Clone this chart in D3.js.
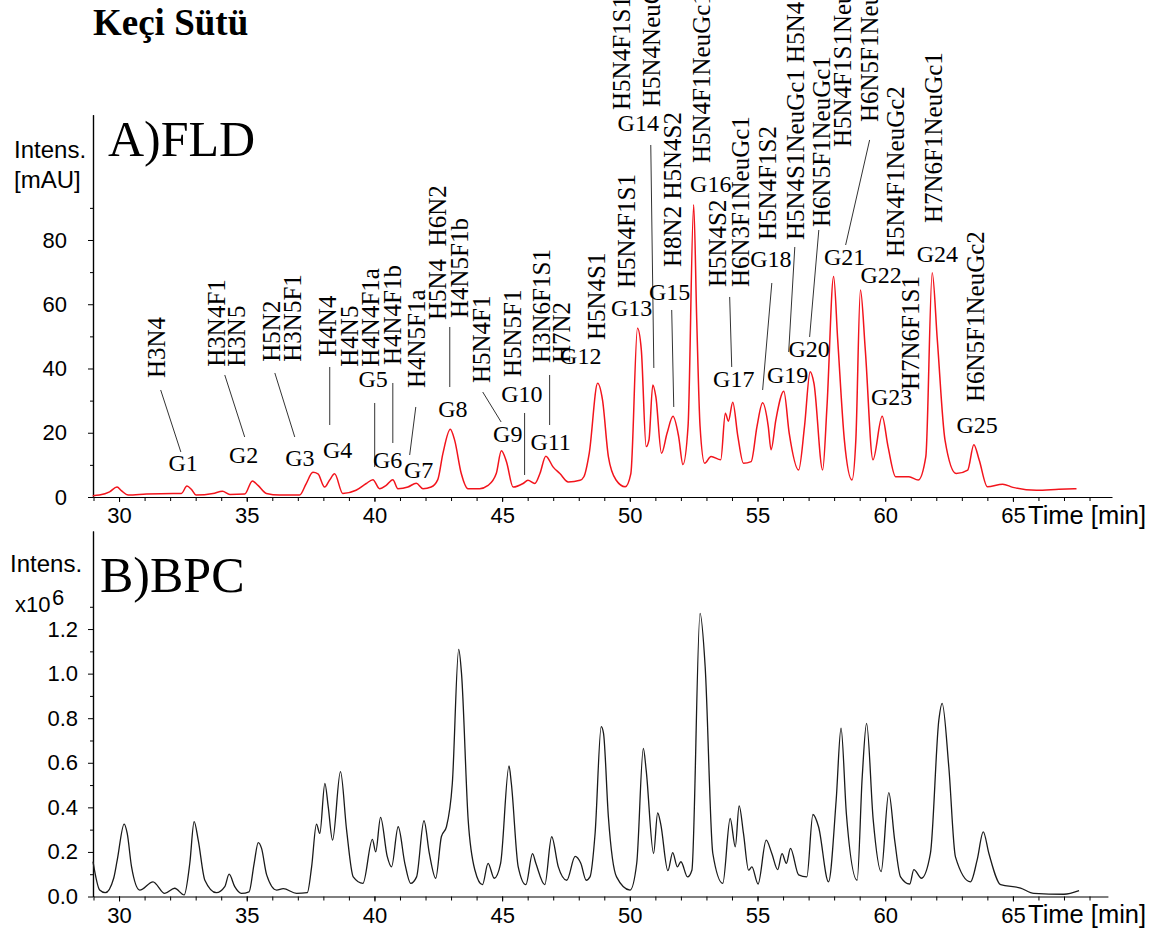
<!DOCTYPE html>
<html>
<head>
<meta charset="utf-8">
<script src="https://cdn.jsdelivr.net/npm/d3@7"></script>
<style>
  body { margin: 0; background: #fff; }
  svg { display: block; }
</style>
</head>
<body>
<svg id="chart" width="1158" height="939"></svg>
<script>
// ---------- data ----------
// Fluorescence trace: [retention time (min), intensity (mAU)]
const fldTrace = [
  [28.97,0.4],[29.23,0.6],[29.63,1.6],[29.92,3.1],[30.1,1.9],[30.36,0.6],[31.07,0.9],[32.12,1.1],
  [32.44,1.1],[32.66,3.4],[32.83,2.4],[33.02,0.6],[33.68,1.1],[34.05,1.8],[34.34,0.8],[34.92,0.9],
  [35.22,5.0],[35.44,3.6],[35.77,1.1],[36.28,0.6],[37.07,0.6],[37.33,4.2],[37.59,7.7],[37.79,7.2],
  [38.05,3.1],[38.24,5.2],[38.44,7.2],[38.76,1.1],[39.28,2.1],[39.68,4.2],[39.94,5.4],[40.2,2.6],
  [40.46,3.6],[40.72,5.4],[40.92,2.6],[41.31,3.1],[41.64,4.3],[41.9,2.6],[42.22,3.1],[42.48,5.4],
  [42.68,13.5],[42.97,21.1],[43.14,17.7],[43.4,7.3],[43.66,2.6],[44.12,2.6],[44.45,3.6],[44.77,7.3],
  [44.97,14.4],[45.17,11.0],[45.43,3.1],[45.82,4.2],[46.01,5.2],[46.28,4.2],[46.48,7.3],[46.71,12.7],
  [47.0,9.3],[47.26,7.3],[47.59,4.7],[48.05,5.2],[48.2,6.3],[48.41,13.6],[48.74,35.4],[48.93,30.2],
  [49.16,12.6],[49.46,5.3],[49.82,3.2],[50.04,7.3],[50.3,52.5],[50.45,45.8],[50.64,15.7],[50.75,17.8],
  [50.9,34.9],[51.02,31.2],[51.24,13.6],[51.46,19.9],[51.69,25.1],[51.91,18.9],[52.08,10.1],[52.28,22.0],
  [52.5,91.0],[52.62,55.0],[52.75,22.0],[52.93,10.5],[53.18,12.6],[53.56,11.6],[53.74,26.1],[53.86,23.6],
  [54.03,29.5],[54.23,18.9],[54.45,10.5],[54.75,11.0],[54.98,22.0],[55.2,29.3],[55.42,22.0],[55.53,14.7],
  [55.72,24.1],[56.03,32.9],[56.24,19.9],[56.61,8.4],[56.84,22.0],[57.06,39.0],[57.21,35.4],[57.55,8.4],
  [57.72,28.2],[57.98,68.6],[58.14,48.9],[58.4,17.8],[58.7,5.3],[58.85,17.8],[59.03,64.4],[59.22,45.8],
  [59.52,11.6],[59.88,25.1],[60.11,15.7],[60.41,6.3],[60.93,6.3],[61.29,5.3],[61.59,12.6],[61.84,69.8],
  [62.04,48.9],[62.34,17.8],[62.78,7.3],[63.23,8.4],[63.47,16.3],[63.68,11.5],[64.0,3.2],[64.6,4.0],
  [65.0,3.0],[65.92,2.1],[66.8,2.4],[67.49,2.6]
];

// Base peak chromatogram: [retention time (min), intensity (x10^6)]
const bpcTrace = [
  [28.98,0.156],[29.24,0.029],[29.46,0.017],[29.79,0.082],[29.93,0.164],[30.2,0.325],[30.32,0.283],
  [30.49,0.133],[30.81,0.029],[31.33,0.066],[31.79,0.014],[32.18,0.037],[32.55,0.007],[32.77,0.149],
  [32.94,0.336],[33.1,0.253],[33.36,0.073],[33.81,0.017],[34.14,0.044],[34.31,0.1],[34.53,0.044],
  [34.79,0.014],[35.09,0.021],[35.29,0.149],[35.45,0.242],[35.58,0.216],[35.78,0.097],[36.17,0.029],
  [36.43,0.035],[36.95,0.014],[37.37,0.017],[37.54,0.133],[37.73,0.325],[37.86,0.283],[38.06,0.508],
  [38.19,0.403],[38.36,0.253],[38.67,0.56],[38.91,0.298],[39.17,0.088],[39.55,0.059],[39.92,0.256],
  [40.05,0.2],[40.24,0.355],[40.5,0.18],[40.67,0.133],[40.93,0.313],[41.19,0.149],[41.42,0.059],
  [41.65,0.088],[41.94,0.34],[42.15,0.193],[42.4,0.082],[42.62,0.268],[42.82,0.313],[43.05,0.508],
  [43.3,1.109],[43.41,1.0],[43.67,0.344],[43.93,0.12],[44.23,0.053],[44.45,0.149],[44.69,0.082],
  [44.94,0.149],[45.27,0.586],[45.36,0.508],[45.63,0.133],[45.93,0.053],[46.19,0.192],[46.32,0.149],
  [46.67,0.053],[46.94,0.268],[47.2,0.133],[47.53,0.073],[47.86,0.18],[48.08,0.149],[48.29,0.073],
  [48.44,0.088],[48.64,0.283],[48.88,0.762],[48.97,0.732],[49.16,0.358],[49.48,0.088],[50.01,0.029],
  [50.27,0.149],[50.53,0.665],[50.64,0.567],[50.93,0.193],[51.09,0.375],[51.21,0.325],[51.49,0.116],
  [51.68,0.197],[51.86,0.133],[52.0,0.156],[52.26,0.088],[52.43,0.118],[52.75,1.27],[52.95,1.031],
  [53.25,0.193],[53.64,0.059],[53.93,0.35],[54.13,0.223],[54.28,0.407],[54.45,0.283],[54.65,0.118],
  [54.78,0.133],[55.02,0.056],[55.34,0.253],[55.56,0.193],[55.79,0.121],[55.96,0.192],[56.13,0.149],
  [56.29,0.216],[56.61,0.097],[56.93,0.088],[57.17,0.368],[57.39,0.313],[57.78,0.066],[58.08,0.433],
  [58.27,0.755],[58.48,0.37],[58.9,0.073],[59.1,0.537],[59.27,0.777],[59.53,0.344],[59.84,0.112],
  [60.14,0.466],[60.37,0.253],[60.6,0.088],[60.96,0.056],[61.12,0.121],[61.42,0.082],[61.77,0.193],
  [62.1,0.792],[62.23,0.867],[62.49,0.581],[62.75,0.178],[63.34,0.066],[63.6,0.164],[63.84,0.29],
  [64.06,0.193],[64.52,0.053],[65.3,0.038],[65.82,0.014],[67.0,0.01],[67.59,0.026]
];

// Peak numbers on the FLD trace: name, retention time, intensity at label baseline
const peakNames = ["G1","G2","G3","G4","G5","G6","G7","G8","G9","G10","G11","G12","G13",
                   "G14","G15","G16","G17","G18","G19","G20","G21","G22","G23","G24","G25"];
const peakTimes = [32.51,34.88,37.08,38.56,39.95,40.52,41.73,43.07,45.22,45.77,46.9,48.08,50.07,
                   50.33,51.56,53.17,54.07,55.52,56.18,57.02,58.41,59.84,60.25,62.04,63.6];
const peakLevels = [8.09,10.58,9.65,12.14,34.24,9.03,5.91,24.9,17.12,29.57,14.63,41.4,56.34,
                    113.93,61.32,94.94,34.24,71.6,35.49,43.58,72.22,66.61,28.64,73.15,19.92];

// Glycan compositions (vertical labels): text, retention time, intensity where the text begins
const glycanNames = ["H3N4","H3N4F1","H3N5","H5N2","H3N5F1","H4N4","H4N5","H4N4F1a","H4N4F1b",
  "H4N5F1a","H5N4  H6N2","H4N5F1b","H5N4F1","H5N5F1","H3N6F1S1","H7N2","H5N4S1","H5N4F1S1",
  "H5N4F1S1","H5N4NeuGc1","H8N2 H5N4S2","H5N4F1NeuGc1","H5N4S2","H6N3F1NeuGc1","H5N4F1S2",
  "H5N4S1NeuGc1 H5N4S1NeuGc1","H6N5F1NeuGc1","H5N4F1S1NeuGc1","H6N5F1NeuGc1","H5N4F1NeuGc2",
  "H7N6F1S1","H7N6F1NeuGc1","H6N5F1NeuGc2"];
const glycanTimes = [31.46,33.81,34.6,35.97,36.8,38.17,39.03,39.86,40.72,41.66,42.48,43.34,44.2,
  45.42,46.55,47.33,48.7,49.88,49.68,50.86,51.68,52.82,53.44,54.34,55.4,56.5,57.51,58.34,59.39,
  60.41,61.0,61.9,63.54];
const glycanLevels = [37.04,40.56,40.56,42.12,42.12,43.67,40.56,40.56,41.09,33.93,55.1,55.72,35.49,
  37.35,41.71,41.71,48.87,65.06,120.47,121.4,71.6,103.97,65.37,65.37,80.0,80.0,84.05,108.95,116.73,
  74.71,33.31,85.29,29.57];

// Leader lines from compositions to peaks: [time1, level1, time2, level2]
const leaders = [
  [31.63,33.31,32.42,14.01],[34.14,37.98,34.92,18.68],[36.1,38.6,36.88,18.68],[38.25,40.47,38.25,22.41],
  [40.01,29.26,40.01,9.34],[40.72,35.49,40.72,16.81],[41.62,28.02,41.38,13.07],[42.95,52.92,42.95,34.24],
  [44.24,32.68,44.96,23.35],[45.88,26.15,45.88,6.85],[46.86,37.98,46.86,22.41],[50.82,109.57,50.94,40.16],
  [51.64,58.21,51.72,28.02],[53.91,62.26,53.99,40.47],[55.56,66.61,55.2,33.31],[56.46,77.82,56.22,45.14],
  [57.4,83.11,57.04,49.81],[59.39,111.13,58.45,78.44]
];

// Axis ticks
const timeTicks = [30,35,40,45,50,55,60,65];
const timeMinorTicks = d3.range(29,69);
const fldTicks = [0,20,40,60,80];
const fldMinorTicks = [10,30,50,70,90];
const bpcTicks = [0.0,0.2,0.4,0.6,0.8,1.0,1.2];
const bpcMinorTicks = [0.1,0.3,0.5,0.7,0.9,1.1,1.3];

// ---------- drawing ----------
const SERIF = "'Liberation Serif','Times New Roman',serif";
const SANS = "'Liberation Sans',Arial,sans-serif";
const svg = d3.select("#chart");

const x = d3.scaleLinear().domain([28.98, 68.88]).range([93, 1112]);
const xBpc = x.copy().domain([28.98, 68.72]).range([93, x(68.72)]);
const yFld = d3.scaleLinear().domain([0, 119]).range([497, 114.7]);
const yBpc = d3.scaleLinear().domain([0, 1.64]).range([896.5, 531]);

function styleAxis(g, size) {
  g.selectAll("path.domain").attr("stroke", "#000").attr("stroke-width", 1.2);
  g.selectAll(".tick line").attr("stroke", "#000").attr("stroke-width", 1);
  g.selectAll(".tick text").attr("font-family", SANS).attr("font-size", size).attr("fill", "#000");
}

function drawTimeAxis(scale, yPos) {
  const gMinor = svg.append("g").attr("transform", `translate(0,${yPos})`)
    .call(d3.axisBottom(scale).tickValues(timeMinorTicks).tickSize(4).tickSizeOuter(0).tickFormat(""));
  styleAxis(gMinor, 22);
  const g = svg.append("g").attr("transform", `translate(0,${yPos})`)
    .call(d3.axisBottom(scale).tickValues(timeTicks).tickSize(5).tickPadding(5.5).tickSizeOuter(0)
      .tickFormat(d3.format("d")));
  styleAxis(g, 22);
  g.select("path.domain").remove();
  svg.append("text").attr("x", 1028).attr("y", yPos + 26.5)
    .attr("font-family", SANS).attr("font-size", 25.5).text("Time [min]");
}

// Panel A: FLD
svg.append("text").attr("x", 93).attr("y", 35).attr("font-family", SERIF)
  .attr("font-weight", "bold").attr("font-size", 37).text("Keçi Sütü");

const gFldMinor = svg.append("g").attr("transform", "translate(93,0)")
  .call(d3.axisLeft(yFld).tickValues(fldMinorTicks).tickSize(3).tickSizeOuter(0).tickFormat(""));
styleAxis(gFldMinor, 22);
const gFld = svg.append("g").attr("transform", "translate(93,0)")
  .call(d3.axisLeft(yFld).tickValues(fldTicks).tickSize(5).tickPadding(21).tickSizeOuter(0)
    .tickFormat(d3.format("d")));
styleAxis(gFld, 22);
drawTimeAxis(x, 497);

svg.append("text").attr("x", 14).attr("y", 158).attr("font-family", SANS).attr("font-size", 24).text("Intens.");
svg.append("text").attr("x", 14).attr("y", 188).attr("font-family", SANS).attr("font-size", 24).text("[mAU]");
svg.append("text").attr("x", 108).attr("y", 156).attr("font-family", SERIF).attr("font-size", 50).text("A)FLD");

svg.append("path").datum(fldTrace)
  .attr("fill", "none").attr("stroke", "#f2141c").attr("stroke-width", 1.5).attr("stroke-linejoin", "round")
  .attr("d", d3.line().x(d => x(d[0])).y(d => yFld(d[1])).curve(d3.curveMonotoneX));

svg.append("g").selectAll("line").data(leaders).join("line")
  .attr("x1", d => x(d[0])).attr("y1", d => yFld(d[1]))
  .attr("x2", d => x(d[2])).attr("y2", d => yFld(d[3]))
  .attr("stroke", "#333").attr("stroke-width", 1);

svg.append("g").selectAll("text").data(glycanNames).join("text")
  .attr("transform", (d, i) => `translate(${x(glycanTimes[i])},${yFld(glycanLevels[i])}) rotate(-90)`)
  .attr("dy", "0.33em").attr("font-family", SERIF).attr("font-size", 25)
  .attr("xml:space", "preserve").style("white-space", "pre").text(d => d);

svg.append("g").selectAll("text").data(peakNames).join("text")
  .attr("x", (d, i) => x(peakTimes[i])).attr("y", (d, i) => yFld(peakLevels[i]))
  .attr("text-anchor", "middle").attr("font-family", SERIF).attr("font-size", 24).text(d => d);

// Panel B: BPC
const gBpcMinor = svg.append("g").attr("transform", "translate(93,0)")
  .call(d3.axisLeft(yBpc).tickValues(bpcMinorTicks).tickSize(3).tickSizeOuter(0).tickFormat(""));
styleAxis(gBpcMinor, 22);
const gBpc = svg.append("g").attr("transform", "translate(93,0)")
  .call(d3.axisLeft(yBpc).tickValues(bpcTicks).tickSize(5).tickPadding(10).tickSizeOuter(0)
    .tickFormat(d3.format(".1f")));
styleAxis(gBpc, 22);
drawTimeAxis(xBpc, 896.5);

svg.append("text").attr("x", 10).attr("y", 572).attr("font-family", SANS).attr("font-size", 24).text("Intens.");
svg.append("text").attr("x", 15).attr("y", 612).attr("font-family", SANS).attr("font-size", 22).text("x10");
svg.append("text").attr("x", 52).attr("y", 605).attr("font-family", SANS).attr("font-size", 22).text("6");
svg.append("text").attr("x", 100).attr("y", 592).attr("font-family", SERIF).attr("font-size", 50).text("B)BPC");

svg.append("path").datum(bpcTrace)
  .attr("fill", "none").attr("stroke", "#1a1a1a").attr("stroke-width", 1.3).attr("stroke-linejoin", "round")
  .attr("d", d3.line().x(d => xBpc(d[0])).y(d => yBpc(d[1])).curve(d3.curveMonotoneX));
</script>
</body>
</html>
